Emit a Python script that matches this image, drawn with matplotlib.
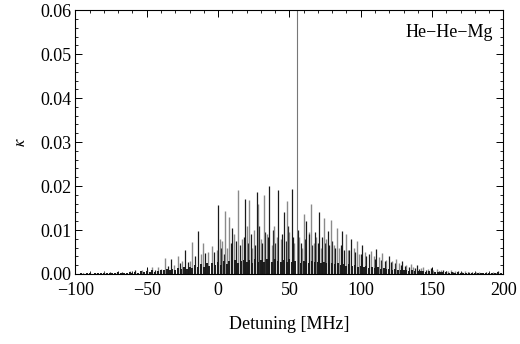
import numpy as np
import matplotlib
matplotlib.use("Agg")
import matplotlib.pyplot as plt
from matplotlib.ticker import MultipleLocator

plt.rcParams['font.family'] = ['Liberation Serif', 'DejaVu Serif']
plt.rcParams['mathtext.fontset'] = 'stix'

# main peaks (detuning MHz, kappa)
grey_x = [-90, -80, -71, -62, -53, -46, -42, -37, -28, -18.6, -10.5, -4, 3, 5, 8, 14, 22, 28, 32,
          39.5, 48, 60.5, 65, 74.4, 79, 83.7, 89.5, 97.7, 107, 115, 125, 135, 144, 153.5, 163,
          173, 183, 193]
grey_h = [.0003, .0004, .0005, .0007, .0010, .0016, .0015, .0036, .0040, .0072, .0070, .0063,
          .0075, .0143, .0130, .0190, .0168, .0160, .0180, .0110, .0166, .0136, .0160, .0128,
          .0123, .0105, .0090, .0076, .0052, .0048, .0034, .0023, .0016, .0011, .0008, .0006,
          .0005, .0004]

black_x = [-95, -85, -76, -67, -58, -50, -33, -23, -14, 0, 10, 19, 27, 36, 42, 46.5, 51.6, 62,
           71, 77, 87, 93, 101, 111, 120, 129, 139.5, 149, 158, 168, 178, 188, 196]
black_h = [.0002, .0003, .0004, .0005, .0008, .0012, .0035, .0055, .0097, .0156, .0105, .0170,
           .0187, .0200, .0190, .0140, .0193, .0120, .0140, .0098, .0098, .0079, .0067, .0056,
           .0040, .0029, .0021, .0013, .0009, .0007, .0005, .0004, .0006]

# secondary lines
grey2_x = [-40, -31, -25, -20, -12, -7, -1, 1.5, 6.5, 11, 16.5, 20, 24, 25.5, 30, 34, 37.5, 41,
           44, 50, 53, 57, 59, 63.5, 67, 69, 72.5, 76, 81, 85, 91, 95, 99, 103, 109, 113, 118,
           122, 127, 132, 137, 142, 147, 151, 156, 161, 166, 171, 176, 181, 186, 191, 196]
grey2_h = [.0012, .0020, .0030, .0030, .0045, .0050, .0055, .0080, .0060, .0090, .0080, .0110,
           .0060, .0100, .0080, .0090, .0065, .0085, .0080, .0095, .0070, .0085, .0060, .0095,
           .0070, .0085, .0060, .0080, .0065, .0060, .0055, .0060, .0045, .0050, .0040, .0038,
           .0032, .0030, .0025, .0020, .0017, .0014, .0011, .0009, .0008, .0006, .0006, .0005,
           .0004, .0004, .0003, .0003, .0003]

black2_x = [-44, -35, -27, -21, -16, -9, -3, 2, 4, 9, 12.5, 15.5, 18, 21, 23, 26, 29, 31, 33,
            35, 38.5, 40, 45, 47.5, 49, 52.5, 56, 58, 61, 64, 66, 68, 70, 73, 75, 78, 80, 82,
            86, 88, 92, 96, 100, 104, 106, 110, 114, 117, 121, 124, 128, 131, 134, 138, 141,
            146, 150, 155, 160, 165, 170, 175, 180, 185, 190, 195]
black2_h = [.0010, .0018, .0025, .0028, .0040, .0048, .0050, .0060, .0045, .0070, .0075, .0065,
            .0085, .0070, .0090, .0065, .0110, .0070, .0095, .0085, .0100, .0070, .0090, .0075,
            .0110, .0085, .0100, .0070, .0080, .0090, .0065, .0095, .0070, .0085, .0070, .0065,
            .0075, .0060, .0065, .0055, .0055, .0050, .0045, .0040, .0045, .0035, .0032, .0030,
            .0028, .0025, .0020, .0019, .0016, .0014, .0012, .0010, .0009, .0007, .0006, .0005,
            .0005, .0004, .0003, .0003, .0003, .0003]

# dense low-lying lines, every 2 MHz from -98 to 198 (units of 1e-4)
floor_x = np.arange(-98, 200, 2)
floor_e4 = [1, 2, 1, 2, 3, 1, 2, 3, 2, 3,
            2, 3, 2, 2, 4, 3, 3, 2, 4, 3,
            5, 3, 6, 4, 6, 5, 8, 5, 7, 10,
            8, 11, 9, 12, 9, 14, 11, 16, 12, 17,
            14, 20, 15, 22, 17, 24, 18, 26, 20, 27,
            21, 29, 23, 30, 24, 31, 26, 29, 32, 27,
            31, 26, 34, 28, 32, 27, 34, 30, 28, 33,
            30, 27, 32, 28, 33, 27, 30, 32, 26, 30,
            28, 25, 30, 27, 28, 24, 27, 25, 22, 25,
            22, 24, 20, 23, 19, 22, 18, 20, 17, 19,
            16, 18, 14, 16, 13, 15, 12, 14, 11, 12,
            10, 12, 9, 10, 8, 9, 7, 9, 6, 7,
            6, 7, 5, 6, 4, 5, 4, 5, 4, 4,
            3, 4, 3, 4, 3, 3, 3, 3, 2, 3,
            2, 3, 2, 2, 3, 2, 2, 4, 2]
floor_h = np.array(floor_e4) * 1e-4

# single strong line
strong_x = [55]
strong_h = [0.07]

GREY = '#8a8a8a'
BLACK = '#1a1a1a'

fig = plt.figure(figsize=(5.2, 3.44), dpi=100)
ax = fig.add_axes([0.145, 0.2035, 0.823, 0.767])

ax.vlines(grey2_x, 0, grey2_h, color=GREY, lw=1.0)
ax.vlines(black2_x, 0, black2_h, color=BLACK, lw=0.9)
ax.vlines(grey_x, 0, grey_h, color=GREY, lw=1.0)
ax.vlines(black_x, 0, black_h, color=BLACK, lw=0.9)
ax.vlines(floor_x, 0, floor_h, color=BLACK, lw=1.4)
ax.vlines(strong_x, 0, strong_h, color='#777777', lw=0.8)

ax.set_xlim(-100, 200)
ax.set_ylim(0, 0.06)
ax.xaxis.set_major_locator(MultipleLocator(50))
ax.xaxis.set_minor_locator(MultipleLocator(10))
ax.yaxis.set_major_locator(MultipleLocator(0.01))
ax.yaxis.set_minor_locator(MultipleLocator(0.002))
ax.yaxis.set_major_formatter(matplotlib.ticker.FormatStrFormatter('%.2f'))
ax.tick_params(which='both', direction='in', top=True, right=True, labelsize=13)
ax.tick_params(axis='x', which='major', pad=6)
ax.tick_params(axis='y', which='major', pad=3)
ax.tick_params(which='major', length=5, width=0.7)
ax.tick_params(which='minor', length=2.5, width=0.6)
for s in ax.spines.values():
    s.set_linewidth(0.8)

ax.set_xlabel('Detuning [MHz]', fontsize=13, labelpad=12)
ax.set_ylabel(r'$\kappa$', fontsize=12, labelpad=8)
ax.text(0.975, 0.915, 'He\u2212He\u2212Mg', transform=ax.transAxes, ha='right', va='center',
        fontsize=13)

fig.savefig('out.png', dpi=100)
